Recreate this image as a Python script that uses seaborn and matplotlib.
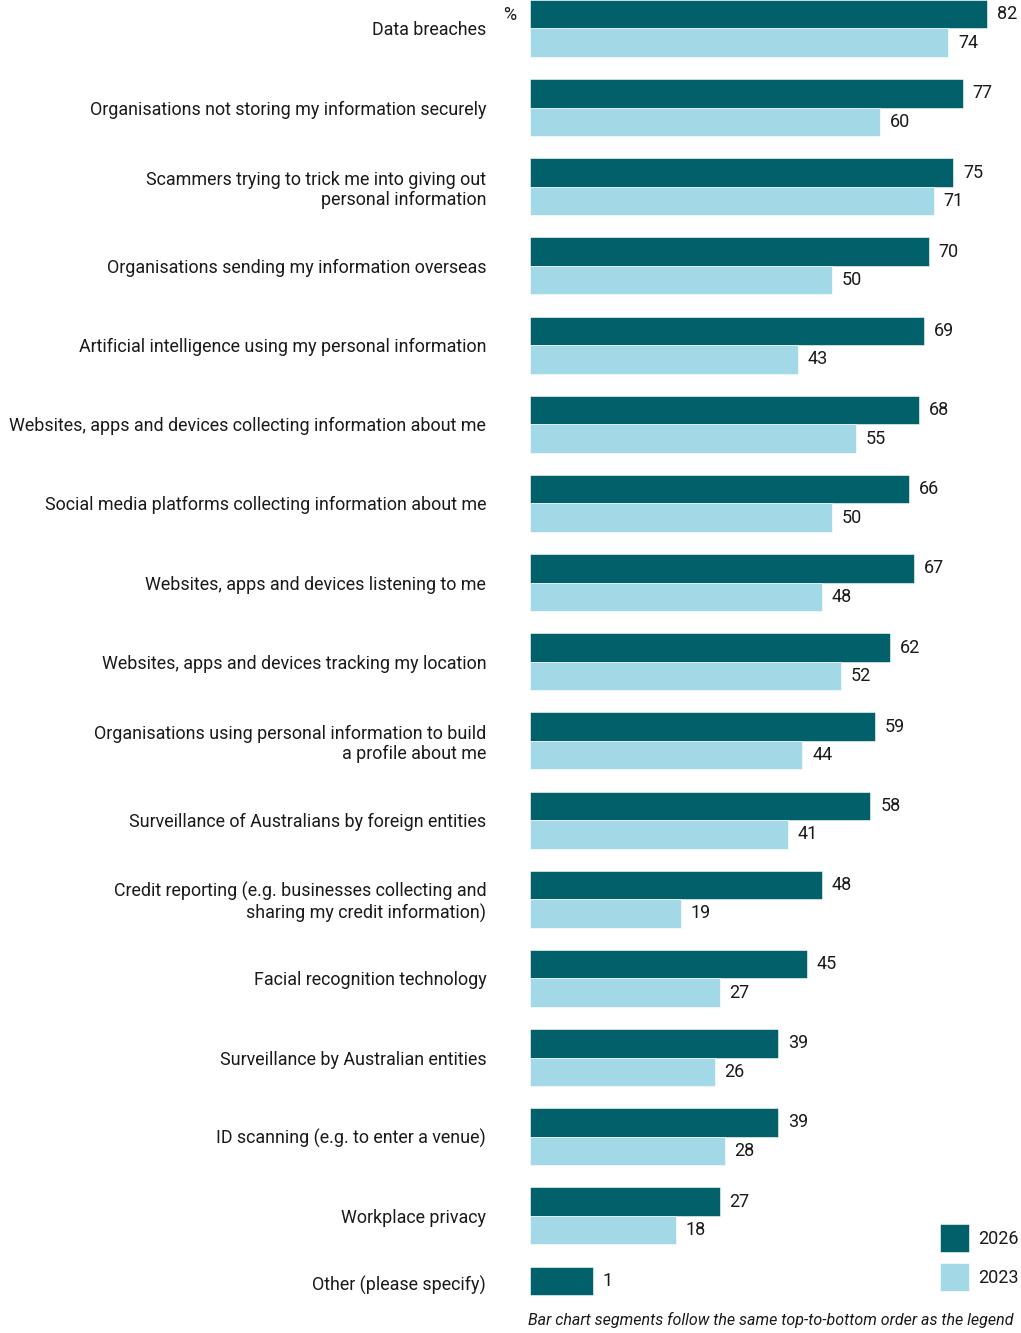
import matplotlib
matplotlib.use("Agg")
import matplotlib.pyplot as plt
import matplotlib.transforms as mtransforms
import seaborn as sns
import pandas as pd
import numpy as np

categories = [
    "Data breaches",
    "Organisations not storing my information securely",
    "Scammers trying to trick me into giving out\npersonal information",
    "Organisations sending my information overseas",
    "Artificial intelligence using my personal information",
    "Websites, apps and devices collecting information about me",
    "Social media platforms collecting information about me",
    "Websites, apps and devices listening to me",
    "Websites, apps and devices tracking my location",
    "Organisations using personal information to build\na profile about me",
    "Surveillance of Australians by foreign entities",
    "Credit reporting (e.g. businesses collecting and\nsharing my credit information)",
    "Facial recognition technology",
    "Surveillance by Australian entities",
    "ID scanning (e.g. to enter a venue)",
    "Workplace privacy",
    "Other (please specify)",
]
values_2026 = [82, 77, 75, 70, 69, 68, 66, 67, 62, 59, 58, 48, 45, 39, 39, 27, 1]
values_2023 = [74, 60, 71, 50, 43, 55, 50, 48, 52, 44, 41, 19, 27, 26, 28, 18, np.nan]
series = ["2026", "2023"]
colors = ["#02606A", "#A3D9E6"]

df = pd.DataFrame({
    "category": categories * 2,
    "year": ["2026"] * len(categories) + ["2023"] * len(categories),
    "value": values_2026 + values_2023,
})

sns.set_theme(style="white")
plt.rcParams["font.family"] = ["Roboto", "DejaVu Sans"]
TEXT = "#1a1a1a"

W, H = 1021, 1333
fig = plt.figure(figsize=(W / 100, H / 100), dpi=100)
ax = fig.add_axes([530 / W, 0, 1 - 530 / W, 1])

sns.barplot(data=df, y="category", x="value", hue="year", hue_order=series,
            palette=colors, saturation=1, order=categories, width=0.72, gap=0,
            orient="h", ax=ax, legend=True, errorbar=None,
            edgecolor="white", linewidth=0.4)

# bars in the original start a fixed distance left of zero
OFFSET = 12
for p in ax.patches:
    w = p.get_width()
    if w > 0 and not np.isnan(w):
        p.set_x(-OFFSET)
        p.set_width(w + OFFSET)

# value labels
for container, vals in zip(ax.containers, [values_2026, values_2023]):
    for rect, v in zip(container, vals):
        if v is None or (isinstance(v, float) and np.isnan(v)):
            continue
        cy = rect.get_y() + rect.get_height() / 2
        ax.annotate(f"{v:g}", xy=(v, cy), xytext=(7, 0), textcoords="offset points",
                    ha="left", va="center", fontsize=13, color=TEXT)

ax.set_xlim(-OFFSET, -OFFSET + (W - 530) / 4.864)
ax.set_ylim(16.48, -0.36)
ax.set_xlabel("")
ax.set_ylabel("")
ax.set_xticks([])
ax.tick_params(axis="y", length=0, pad=31.5, labelsize=12.9, labelcolor=TEXT)
ticklabels = ax.get_yticklabels()
for lbl in ticklabels:
    lbl.set_linespacing(1.15)
# last row label sits beside its single bar
last = ticklabels[-1]
last.set_transform(last.get_transform() +
                   mtransforms.ScaledTranslation(0, 12 / 100, fig.dpi_scale_trans))
for s in ax.spines.values():
    s.set_visible(False)

fig.text(503 / W, 1 - 15 / H, "%", ha="left", va="center", fontsize=13, color=TEXT)

handles, labels = ax.get_legend_handles_labels()
ax.get_legend().remove()
fig.legend(handles, labels, loc="lower right", bbox_to_anchor=(1.0 + 7 / W, 33 / H),
           frameon=False, fontsize=13, handlelength=1.6, handleheight=2.0,
           handletextpad=0.55, labelspacing=0.62, borderaxespad=0.1,
           labelcolor=TEXT)

fig.text(1013 / W, 1 - 1320 / H,
         "Bar chart segments follow the same top-to-bottom order as the legend",
         ha="right", va="center", fontsize=11.5, style="italic", color=TEXT)

fig.savefig("out.png", dpi=100)
